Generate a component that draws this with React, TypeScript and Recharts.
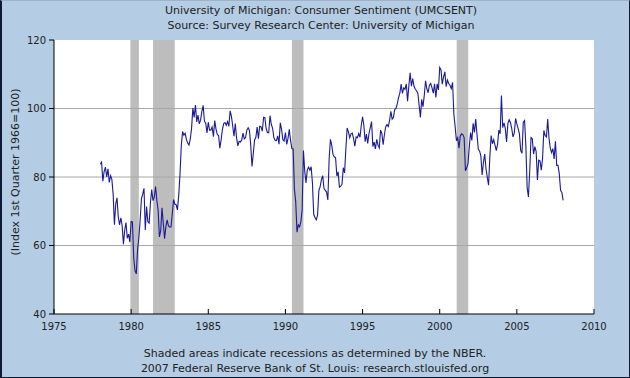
import React from 'react';
import { ComposedChart, Line, XAxis, YAxis, ReferenceArea, ReferenceLine } from 'recharts';

// monthly index, Jan 1978 .. Jan 2008
const startYear = 1978;
const sentiment = [
  83.7, 84.3, 78.8, 81.6, 82.9, 80.0, 82.4, 78.4, 80.4, 79.3, 75.0, 66.1, // 1978
  72.1, 73.9, 68.4, 66.0, 68.1, 65.8, 60.4, 64.5, 66.7, 62.1, 63.3, 61.0, // 1979
  67.0, 66.9, 56.5, 52.7, 51.7, 58.7, 62.3, 67.3, 73.7, 75.0, 76.7, 64.5, // 1980
  71.4, 66.9, 66.5, 72.4, 76.3, 73.1, 74.1, 77.2, 73.1, 70.3, 62.5, 64.3, // 1981
  71.0, 66.5, 62.0, 65.5, 67.5, 65.7, 65.4, 65.4, 69.3, 73.4, 72.1, 71.9, // 1982
  70.4, 74.6, 80.8, 89.1, 93.3, 92.2, 92.8, 90.9, 89.9, 89.3, 91.1, 94.2, // 1983
  100.1, 97.4, 101.0, 96.1, 98.1, 95.5, 96.6, 99.1, 100.9, 96.3, 95.7, 92.9, // 1984
  96.0, 93.7, 93.7, 94.6, 91.8, 96.5, 94.0, 92.4, 92.1, 88.4, 90.9, 93.9, // 1985
  95.6, 95.9, 95.1, 96.2, 94.8, 99.3, 97.7, 94.9, 91.9, 95.6, 91.4, 89.1, // 1986
  90.4, 90.2, 90.8, 92.8, 91.1, 91.5, 93.7, 94.4, 93.6, 89.3, 83.1, 86.8, // 1987
  90.8, 91.6, 94.6, 91.2, 94.8, 94.7, 93.4, 97.4, 97.3, 94.1, 93.0, 92.9, // 1988
  97.9, 95.4, 94.3, 91.5, 90.7, 90.6, 92.0, 89.6, 95.8, 93.9, 90.9, 90.5, // 1989
  93.0, 89.5, 91.3, 93.9, 90.6, 88.3, 88.2, 76.4, 72.8, 63.9, 66.0, 65.5, // 1990
  66.8, 70.4, 87.7, 81.8, 78.3, 82.1, 82.9, 82.0, 83.0, 78.3, 69.1, 68.2, // 1991
  67.5, 68.8, 76.0, 77.2, 79.2, 80.4, 76.6, 76.1, 75.6, 73.3, 85.3, 91.0, // 1992
  89.3, 86.6, 85.9, 85.6, 80.3, 81.5, 77.0, 77.3, 77.9, 82.7, 81.2, 88.2, // 1993
  94.3, 93.2, 91.5, 92.6, 92.8, 91.2, 89.0, 91.7, 91.5, 92.7, 91.6, 95.1, // 1994
  97.6, 95.1, 90.3, 92.5, 89.8, 92.7, 94.4, 96.2, 88.9, 90.2, 88.2, 91.0, // 1995
  89.3, 88.5, 93.7, 92.7, 89.4, 92.4, 94.7, 95.3, 94.7, 96.5, 99.2, 96.9, // 1996
  97.4, 99.7, 100.0, 101.4, 103.2, 104.5, 107.1, 104.4, 106.0, 105.6, 107.2, 102.1, // 1997
  106.6, 110.4, 106.5, 108.7, 106.5, 105.6, 105.2, 104.4, 100.9, 97.4, 102.7, 100.5, // 1998
  103.9, 108.1, 105.7, 104.6, 106.8, 107.3, 106.0, 104.5, 107.2, 103.2, 107.2, 105.4, // 1999
  112.0, 111.3, 107.1, 109.2, 110.7, 106.4, 108.3, 107.3, 106.8, 105.8, 107.6, 98.4, // 2000
  94.7, 90.6, 91.5, 88.4, 92.0, 92.6, 92.4, 91.5, 81.8, 82.7, 83.9, 88.8, // 2001
  93.0, 90.7, 95.7, 93.0, 96.9, 92.4, 88.1, 87.6, 86.1, 80.6, 84.2, 86.7, // 2002
  82.4, 79.9, 77.6, 86.0, 92.1, 89.7, 90.9, 89.3, 87.7, 89.6, 93.7, 92.6, // 2003
  103.8, 94.4, 95.8, 94.2, 90.2, 95.6, 96.7, 95.9, 94.2, 91.7, 92.8, 97.1, // 2004
  95.5, 94.1, 92.6, 87.7, 86.9, 96.0, 96.5, 89.1, 76.9, 74.2, 81.6, 91.5, // 2005
  91.2, 86.7, 88.9, 87.4, 79.1, 84.9, 84.7, 82.0, 85.4, 93.6, 92.1, 91.7, // 2006
  96.9, 91.3, 88.4, 87.1, 88.3, 85.3, 90.4, 83.4, 83.4, 80.9, 76.1, 75.5, // 2007
  73.2, // 2008
];

const recessions = [
  [1979.95, 1980.5],
  [1981.42, 1982.83],
  [1990.42, 1991.17],
  [2001.1, 2001.85],
];

const xTicks = [1975, 1980, 1985, 1990, 1995, 2000, 2005, 2010];
const yTicks = [40, 60, 80, 100, 120];
const gridValues = [60, 80, 100];

const data = sentiment.map((v, i) => ({ date: startYear + i / 12, value: v }));

const font = 'DejaVu Sans, Verdana, sans-serif';
const textColor = '#222';

function XTick({ x, y, payload }: any) {
  return (
    <g>
      <line x1={x} x2={x} y1={y - 8} y2={y - 13} stroke="#000" />
      <text x={x} y={y} dy={8} textAnchor="middle" fontSize={10} fontFamily={font} fill={textColor}>
        {payload.value}
      </text>
    </g>
  );
}

export default function App() {
  return (
    <div
      style={{
        position: 'relative',
        width: 630,
        height: 378,
        background: '#B4CCE4',
        fontFamily: font,
        color: textColor,
        overflow: 'hidden',
      }}
    >
      <style>{'body{margin:0}'}</style>
      <div style={{ position: 'absolute', top: 3, left: 6, width: 630, textAlign: 'center', fontSize: 11, lineHeight: '15px' }}>
        University of Michigan: Consumer Sentiment (UMCSENT)
        <br />
        Source: Survey Research Center: University of Michigan
      </div>
      <div
        style={{
          position: 'absolute',
          left: 15,
          top: 172,
          transform: 'translate(-50%, -50%) rotate(-90deg)',
          whiteSpace: 'nowrap',
          fontSize: 11,
        }}
      >
        (Index 1st Quarter 1966=100)
      </div>
      <div style={{ position: 'absolute', top: 346, left: 0, width: 630, textAlign: 'center', fontSize: 11, lineHeight: '15px' }}>
        Shaded areas indicate recessions as determined by the NBER.
        <br />
        2007 Federal Reserve Bank of St. Louis: research.stlouisfed.org
      </div>
      <ComposedChart
        width={630}
        height={378}
        data={data}
        margin={{ top: 40, right: 36, bottom: 0, left: 0 }}
        style={{ position: 'absolute', top: 0, left: 0 }}
      >
        <XAxis
          dataKey="date"
          type="number"
          domain={[1975, 2010]}
          ticks={xTicks}
          interval={0}
          height={64}
          tickSize={0}
          tickMargin={8}
          tickLine={false}
          axisLine={{ stroke: '#000' }}
          tick={<XTick />}
        />
        <YAxis
          type="number"
          domain={[40, 120]}
          ticks={yTicks}
          interval={0}
          width={54}
          tickSize={5}
          tickMargin={3}
          tickLine={{ stroke: '#000' }}
          axisLine={{ stroke: '#000' }}
          tick={{ fontSize: 10, fontFamily: font, fill: textColor }}
        />
        <ReferenceArea x1={1975} x2={2010} y1={40} y2={120} fill="#fff" fillOpacity={1} stroke="none" />
        {recessions.map(([a, b], i) => (
          <ReferenceArea key={i} x1={a} x2={b} y1={40} y2={120} fill="#BDBDBD" fillOpacity={1} stroke="none" />
        ))}
        {gridValues.map((v) => (
          <ReferenceLine key={v} y={v} stroke="#A8A8A8" strokeWidth={1} />
        ))}
        <Line
          type="linear"
          dataKey="value"
          stroke="#1a1a96"
          strokeWidth={1.1}
          dot={false}
          isAnimationActive={false}
        />
      </ComposedChart>
      <div
        style={{
          position: 'absolute',
          inset: 0,
          boxSizing: 'border-box',
          borderLeft: '2px solid #0e1a33',
          borderRight: '1px solid #0e1a33',
          borderBottom: '1px solid #0e1a33',
          borderTop: '1px solid #9fb2c8',
          pointerEvents: 'none',
        }}
      />
    </div>
  );
}
